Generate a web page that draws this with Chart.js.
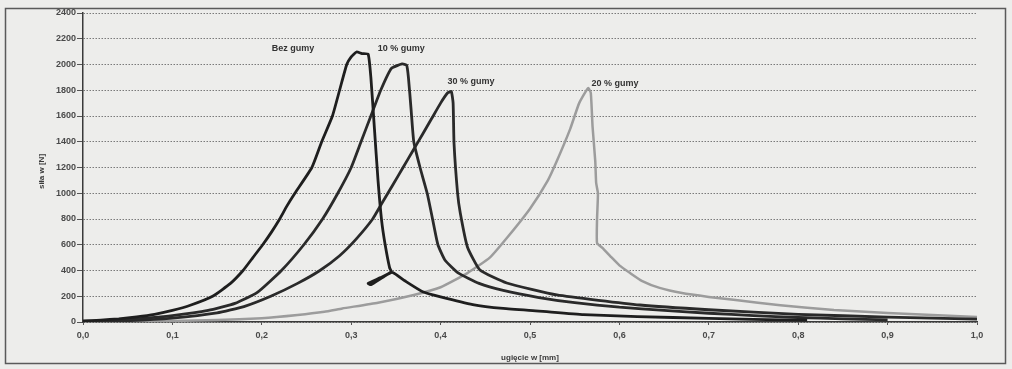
<!DOCTYPE html>
<html>
<head>
<meta charset="utf-8">
<script src="https://cdn.jsdelivr.net/npm/chart.js@4.4.1/dist/chart.umd.min.js"></script>
<style>
  html, body { margin: 0; padding: 0; background: #ededeb; }
  #wrap { width: 1012px; height: 369px; position: relative; }
  canvas { display: block; }
</style>
</head>
<body>
<div id="wrap"><canvas id="c" width="1012" height="369"></canvas></div>
<script>
// ---- data (x: ugięcie [mm], y: siła [N]) ----
const bezGumyX = [0.0,0.02,0.04,0.06,0.08,0.10,0.12,0.145,0.165,0.179,0.19,0.201,0.211,0.220,0.228,0.237,0.256,0.267,0.279,0.287,0.295,0.300,0.306,0.312,0.319,0.322,0.326,0.330,0.334,0.338,0.343,0.345,0.333,0.319,0.322,0.336,0.346,0.36,0.38,0.40,0.436,0.47,0.51,0.56,0.62,0.70,0.75,0.81];
const bezGumyY = [8,15,25,40,60,90,130,200,300,400,500,600,700,800,900,1000,1200,1400,1600,1800,2000,2060,2097,2085,2080,1900,1500,1100,790,600,420,390,345,300,290,350,385,320,235,195,135,105,85,58,42,28,20,14];

const guma10X = [0.0,0.03,0.06,0.10,0.14,0.17,0.195,0.222,0.247,0.268,0.285,0.300,0.311,0.322,0.333,0.345,0.357,0.362,0.364,0.367,0.370,0.377,0.385,0.391,0.397,0.405,0.42,0.443,0.47,0.51,0.55,0.60,0.65,0.70,0.75,0.80,0.85,0.90];
const guma10Y = [5,12,25,50,90,145,230,400,600,800,1000,1200,1400,1600,1800,1970,2004,1995,1900,1650,1400,1200,1000,800,600,480,380,300,245,190,150,115,90,68,50,35,25,16];

const guma30X = [0.0,0.05,0.10,0.15,0.18,0.21,0.24,0.265,0.287,0.305,0.324,0.335,0.347,0.358,0.369,0.38,0.39,0.40,0.408,0.412,0.414,0.415,0.419,0.422,0.430,0.444,0.474,0.53,0.623,0.70,0.80,0.90,1.0];
const guma30Y = [3,10,30,70,120,200,300,400,515,640,800,930,1070,1200,1330,1460,1580,1700,1780,1790,1700,1390,1000,846,583,404,303,210,132,95,60,38,22];

const guma20X = [0.0,0.10,0.15,0.20,0.24,0.27,0.29,0.33,0.37,0.40,0.43,0.455,0.475,0.50,0.52,0.53,0.545,0.555,0.565,0.568,0.570,0.573,0.574,0.576,0.575,0.575,0.581,0.59,0.60,0.612,0.625,0.645,0.67,0.70,0.73,0.78,0.84,0.90,0.95,1.0];
const guma20Y = [2,8,15,30,55,80,105,150,210,270,380,500,660,880,1100,1250,1500,1700,1817,1780,1515,1250,1080,1000,800,614,575,510,440,380,320,265,225,195,170,130,93,70,54,39];

const yTicks = [0,200,400,600,800,1000,1200,1400,1600,1800,2000,2200,2400];
const xTicks = [0.0,0.1,0.2,0.3,0.4,0.5,0.6,0.7,0.8,0.9,1.0];

const curveLabels = ["Bez gumy", "10 % gumy", "30 % gumy", "20 % gumy"];
const curveLabelX = [0.235, 0.356, 0.434, 0.595];
const curveLabelY = [2128, 2128, 1864, 1856];

const xTitle = "ugięcie w [mm]";
const yTitle = "siła w [N]";

function pts(xs, ys) { return xs.map((x, i) => ({ x: x, y: ys[i] })); }

const textFont = '"Liberation Sans", Arial, sans-serif';

const decor = {
  id: 'decor',
  beforeDraw(chart) {
    const ctx = chart.ctx;
    ctx.save();
    ctx.fillStyle = '#ededeb';
    ctx.fillRect(0, 0, chart.width, chart.height);
    ctx.strokeStyle = '#5a5a5a';
    ctx.lineWidth = 1.5;
    ctx.strokeRect(5.5, 8.5, 1000, 355);
    ctx.restore();
  },
  afterDraw(chart) {
    const ctx = chart.ctx;
    const xs = chart.scales.x, ys = chart.scales.y;
    ctx.save();
    ctx.fillStyle = '#333';
    ctx.font = 'bold 9px ' + textFont;
    ctx.textAlign = 'center';
    ctx.textBaseline = 'middle';
    curveLabels.forEach((t, i) => {
      ctx.fillText(t, xs.getPixelForValue(curveLabelX[i]), ys.getPixelForValue(curveLabelY[i]));
    });
    ctx.font = 'bold 8px ' + textFont;
    ctx.fillStyle = '#3a3a3a';
    ctx.fillText(xTitle, (chart.chartArea.left + chart.chartArea.right) / 2, 358);
    ctx.translate(42, (chart.chartArea.top + chart.chartArea.bottom) / 2 + 4);
    ctx.rotate(-Math.PI / 2);
    ctx.fillText(yTitle, 0, 0);
    ctx.restore();
  }
};

const dark = '#2a2a2a';
new Chart(document.getElementById('c'), {
  type: 'scatter',
  data: {
    datasets: [
      { label: '20 % gumy', data: pts(guma20X, guma20Y), borderColor: '#9c9c9c', borderWidth: 2.5, order: 4 },
      { label: '30 % gumy', data: pts(guma30X, guma30Y), borderColor: dark, borderWidth: 2.8, order: 3 },
      { label: '10 % gumy', data: pts(guma10X, guma10Y), borderColor: dark, borderWidth: 2.8, order: 2 },
      { label: 'Bez gumy', data: pts(bezGumyX, bezGumyY), borderColor: '#1e1e1e', borderWidth: 2.8, order: 1 }
    ].map(d => Object.assign(d, { showLine: true, pointRadius: 0, tension: 0.15, fill: false }))
  },
  options: {
    responsive: false,
    animation: false,
    devicePixelRatio: 1,
    layout: { padding: { left: 0, top: 13, right: 35, bottom: 0 } },
    plugins: { legend: { display: false }, tooltip: { enabled: false } },
    scales: {
      x: {
        type: 'linear', min: 0, max: 1,
        afterBuildTicks: (s) => { s.ticks = xTicks.map(v => ({ value: v })); },
        afterFit: (s) => { s.height = 47; },
        ticks: {
          callback: (v) => Number(v).toFixed(1).replace('.', ','),
          font: { family: textFont, size: 9, weight: 'bold' }, color: '#4a4a4a', padding: 5, maxRotation: 0
        },
        grid: { drawOnChartArea: false, drawTicks: true, tickLength: 3, color: '#555' },
        border: { color: '#3a3a3a', width: 1.5 }
      },
      y: {
        type: 'linear', min: 0, max: 2400,
        afterBuildTicks: (s) => { s.ticks = yTicks.map(v => ({ value: v })); },
        afterFit: (s) => { s.width = 83; },
        ticks: {
          callback: (v) => String(v),
          font: { family: textFont, size: 9, weight: 'bold' }, color: '#4a4a4a', padding: 1
        },
        grid: { color: '#7a7a7a', lineWidth: 1, tickLength: 6, tickColor: '#555', tickBorderDash: [], tickWidth: 1 },
        border: { color: '#3a3a3a', width: 1.5, dash: [1.5, 1.5] }
      }
    }
  },
  plugins: [decor]
});
</script>
</body>
</html>
